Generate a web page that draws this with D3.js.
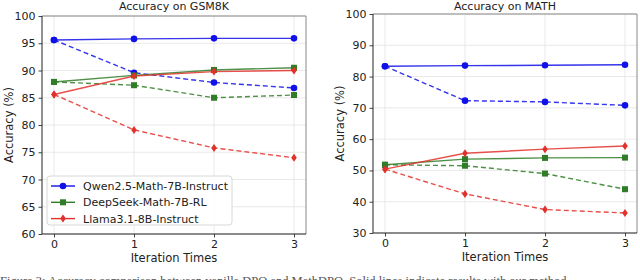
<!DOCTYPE html>
<html>
<head>
<meta charset="utf-8">
<script src="https://cdn.jsdelivr.net/npm/d3@7"></script>
<style>
  body { margin: 0; background: #fff; }
  svg { font-family: "DejaVu Sans", sans-serif; }
</style>
</head>
<body>
<svg id="chart" width="640" height="280"></svg>
<script>
const iterations = [0, 1, 2, 3];
const modelNames = ["Qwen2.5-Math-7B-Instruct", "DeepSeek-Math-7B-RL", "Llama3.1-8B-Instruct"];
const modelColors = ["#1010e8", "#2f7d26", "#e3302a"];
const modelMarkers = ["circle", "square", "diamond"];

// GSM8K, solid = with method, dashed = baseline
const gsmSolid = [
    [95.6, 95.8, 95.9, 95.9],
    [87.9, 89.1, 90.1, 90.5],
    [85.6, 89.0, 89.8, 90.0]
];
const gsmDashed = [
    [95.6, 89.6, 87.8, 86.8],
    [87.9, 87.3, 85.0, 85.5],
    [85.6, 79.1, 75.8, 74.0]
];
const gsmTicks = [60, 65, 70, 75, 80, 85, 90, 95, 100];

// MATH
const mathSolid = [
    [83.3, 83.5, 83.6, 83.8],
    [51.8, 53.6, 54.0, 54.1],
    [50.4, 55.5, 56.8, 57.8]
];
const mathDashed = [
    [83.3, 72.3, 71.9, 70.8],
    [51.8, 51.5, 49.0, 44.0],
    [50.4, 42.5, 37.5, 36.4]
];
const mathTicks = [30, 40, 50, 60, 70, 80, 90, 100];

const svg = d3.select("#chart");

function drawPanel(opts) {
    const x = d3.scaleLinear().domain([-0.15, 3.15]).range([opts.left, opts.right]);
    const y = d3.scaleLinear().domain(opts.yDomain).range([opts.bottom, opts.top]);
    const g = svg.append("g");

    // grid
    g.selectAll(".gx").data(iterations).join("line")
        .attr("x1", d => x(d)).attr("x2", d => x(d))
        .attr("y1", opts.top).attr("y2", opts.bottom)
        .attr("stroke", "#e3e3e3").attr("stroke-width", 0.8);
    g.selectAll(".gy").data(opts.ticks).join("line")
        .attr("x1", opts.left).attr("x2", opts.right)
        .attr("y1", d => y(d)).attr("y2", d => y(d))
        .attr("stroke", "#e3e3e3").attr("stroke-width", 0.8);

    // axes
    const xAxis = g.append("g")
        .attr("transform", `translate(0,${opts.bottom})`)
        .call(d3.axisBottom(x).tickValues(iterations).tickFormat(d3.format("d")).tickSize(3.5).tickPadding(3));
    const yAxis = g.append("g")
        .attr("transform", `translate(${opts.left},0)`)
        .call(d3.axisLeft(y).tickValues(opts.ticks).tickFormat(d3.format("d")).tickSize(3.5).tickPadding(3));
    [xAxis, yAxis].forEach(a => {
        a.select(".domain").remove();
        a.selectAll("text").attr("font-size", 11).attr("fill", "#222")
            .attr("font-family", "DejaVu Sans, sans-serif");
        a.selectAll("line").attr("stroke", "#444");
    });

    // frame
    g.append("line").attr("x1", opts.left).attr("x2", opts.right).attr("y1", opts.top).attr("y2", opts.top)
        .attr("stroke", "#888").attr("stroke-width", 1);
    g.append("line").attr("x1", opts.right).attr("x2", opts.right).attr("y1", opts.top).attr("y2", opts.bottom)
        .attr("stroke", "#888").attr("stroke-width", 1);
    g.append("line").attr("x1", opts.left).attr("x2", opts.right).attr("y1", opts.bottom).attr("y2", opts.bottom)
        .attr("stroke", "#222").attr("stroke-width", 1);
    g.append("line").attr("x1", opts.left).attr("x2", opts.left).attr("y1", opts.top).attr("y2", opts.bottom)
        .attr("stroke", "#222").attr("stroke-width", 1);

    const line = d3.line().x((d, i) => x(iterations[i])).y(d => y(d));

    const series = [];
    opts.dashed.forEach((vals, i) => series.push({ vals, i, dash: "5,3" }));
    opts.solid.forEach((vals, i) => series.push({ vals, i, dash: null }));

    series.forEach(s => {
        g.append("path")
            .attr("d", line(s.vals))
            .attr("fill", "none")
            .attr("stroke", modelColors[s.i])
            .attr("stroke-opacity", 0.85)
            .attr("stroke-width", 1.4)
            .attr("stroke-dasharray", s.dash);
        s.vals.forEach((v, j) => drawMarker(g, modelMarkers[s.i], x(iterations[j]), y(v), modelColors[s.i]));
    });

    // titles
    g.append("text").attr("x", (opts.left + opts.right) / 2).attr("y", 10)
        .attr("text-anchor", "middle").attr("font-size", 11).attr("fill", "#222").text(opts.title);
    g.append("text").attr("x", (opts.left + opts.right) / 2).attr("y", opts.bottom + 28)
        .attr("text-anchor", "middle").attr("font-size", 11.5).attr("fill", "#222").text("Iteration Times");
    g.append("text")
        .attr("transform", `translate(${opts.left - 29},${(opts.top + opts.bottom) / 2}) rotate(-90)`)
        .attr("text-anchor", "middle").attr("font-size", 11.5).attr("fill", "#222").text("Accuracy (%)");
    return g;
}

function drawMarker(g, type, cx, cy, color) {
    if (type === "circle") {
        g.append("circle").attr("cx", cx).attr("cy", cy).attr("r", 3.3).attr("fill", color);
    } else if (type === "square") {
        g.append("rect").attr("x", cx - 3).attr("y", cy - 3).attr("width", 6).attr("height", 6).attr("fill", color);
    } else {
        g.append("path").attr("d", `M${cx},${cy - 4}L${cx + 2.8},${cy}L${cx},${cy + 4}L${cx - 2.8},${cy}Z`)
            .attr("fill", color);
    }
}

const left = drawPanel({
    left: 42, right: 306, top: 16, bottom: 234,
    yDomain: [60, 100], ticks: gsmTicks,
    solid: gsmSolid, dashed: gsmDashed, title: "Accuracy on GSM8K"
});

drawPanel({
    left: 373, right: 637, top: 14, bottom: 233,
    yDomain: [30, 100], ticks: mathTicks,
    solid: mathSolid, dashed: mathDashed, title: "Accuracy on MATH"
});

// legend
const lg = left.append("g");
lg.append("rect").attr("x", 47).attr("y", 176).attr("width", 185).attr("height", 49)
    .attr("rx", 3).attr("fill", "#fff").attr("fill-opacity", 0.9).attr("stroke", "#d8d8d8");
modelNames.forEach((name, i) => {
    const yy = 186 + i * 16.3;
    lg.append("line").attr("x1", 51).attr("x2", 75).attr("y1", yy).attr("y2", yy)
        .attr("stroke", modelColors[i]).attr("stroke-width", 1.4);
    drawMarker(lg, modelMarkers[i], 63, yy, modelColors[i]);
    lg.append("text").attr("x", 83).attr("y", yy + 4).attr("font-size", 11).attr("fill", "#222").text(name);
});

// caption, cropped at the bottom edge as in the source
svg.append("text").attr("x", 0).attr("y", 285).attr("font-size", 12.5).attr("fill", "#555")
    .attr("font-family", "Liberation Serif, serif")
    .text("Figure 3: Accuracy comparison between vanilla DPO and MathDPO. Solid lines indicate results with our method.");
</script>
</body>
</html>
